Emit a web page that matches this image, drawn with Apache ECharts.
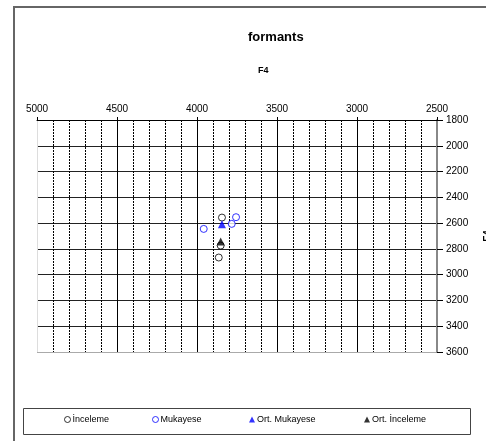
<!DOCTYPE html>
<html><head><meta charset="utf-8">
<script src="https://cdn.jsdelivr.net/npm/echarts@6/dist/echarts.min.js"></script>
<style>html,body{margin:0;padding:0;background:#fff}#c{width:486px;height:441px}</style>
</head><body><div id="c"></div>
<script>
// horizontal value (x), F4 vertical value (y)
const incelemeX = [3844, 3852, 3864];
const incelemeY = [2557, 2774, 2867];
const mukayeseX = [3756, 3783, 3958];
const mukayeseY = [2554, 2606, 2645];
const ortMukayese = [[3844, 2609]];
const ortInceleme = [[3852, 2743]];
const xTicks = [2500, 5000, 500];
const yTicks = [1800, 3600, 200];
const seriesNames = ['İnceleme', 'Mukayese', 'Ort. Mukayese', 'Ort. İnceleme'];

const zip = (a, b) => a.map((v, i) => [v, b[i]]);
const font = 'Liberation Sans, Arial, sans-serif';
const chart = echarts.init(document.getElementById('c'), null, {renderer: 'canvas'});
const legendLefts = [64, 152, 249, 364];
const plain = v => String(v);

chart.setOption({
  animation: false,
  backgroundColor: '#fff',
  title: [
    {text: 'formants', left: 243, top: 26, textStyle: {fontFamily: font, fontSize: 13, fontWeight: 'bold', color: '#000'}},
    {text: 'F4', left: 253, top: 61, textStyle: {fontFamily: font, fontSize: 9, fontWeight: 'bold', color: '#000'}}
  ],
  grid: {left: 37, right: 49, top: 120, height: 232, containLabel: false, outerBoundsMode: 'none'},
  xAxis: {
    type: 'value', position: 'top', inverse: true,
    min: xTicks[0], max: xTicks[1], interval: xTicks[2],
    axisLine: {show: true, lineStyle: {color: '#000', width: 1}},
    axisTick: {show: true, inside: false, length: 3, lineStyle: {color: '#000'}},
    minorTick: {show: false, splitNumber: 5},
    axisLabel: {fontFamily: font, fontSize: 10, color: '#000', margin: 6, formatter: plain},
    splitLine: {show: true, lineStyle: {color: ['#888', '#000', '#000', '#000', '#000', '#ddd'], width: 1}},
    minorSplitLine: {show: true, lineStyle: {color: '#000', type: [2, 1], width: 1}}
  },
  yAxis: {
    type: 'value', position: 'right', inverse: true,
    min: yTicks[0], max: yTicks[1], interval: yTicks[2],
    name: 'F4', nameLocation: 'middle', nameGap: 46, nameRotate: 90,
    nameTextStyle: {fontFamily: font, fontSize: 10, fontWeight: 'bold', color: '#000'},
    axisLine: {show: true, lineStyle: {color: '#888', width: 2}},
    axisTick: {show: true, inside: false, length: 6, lineStyle: {color: '#000'}},
    axisLabel: {fontFamily: font, fontSize: 10, color: '#000', margin: 9, formatter: plain},
    splitLine: {show: true, lineStyle: {color: ['#000', '#222', '#222', '#222', '#222', '#222', '#222', '#222', '#222', '#aaa'], width: 1}}
  },
  legend: seriesNames.map((n, i) => ({
    data: [n], left: legendLefts[i], top: 415, itemWidth: 6, itemHeight: 6, itemGap: 0, padding: 0,
    itemStyle: {borderWidth: 1},
    textStyle: {fontFamily: font, fontSize: 9, color: '#000', padding: [0, 0, 0, -3]}
  })),
  graphic: [
    {type: 'rect', shape: {x: 14, y: 7, width: 520, height: 500}, style: {fill: 'none', stroke: '#666', lineWidth: 2}, silent: true},
    {type: 'rect', shape: {x: 23.5, y: 408.5, width: 447, height: 26}, style: {fill: 'none', stroke: '#444', lineWidth: 1}, silent: true}
  ],
  series: [
    {name: seriesNames[0], type: 'scatter', symbol: 'circle', symbolSize: 7, itemStyle: {color: '#fff', borderColor: '#000', borderWidth: 1}, data: zip(incelemeX, incelemeY), z: 3},
    {name: seriesNames[1], type: 'scatter', symbol: 'circle', symbolSize: 7, itemStyle: {color: '#fff', borderColor: '#00f', borderWidth: 1}, data: zip(mukayeseX, mukayeseY), z: 3},
    {name: seriesNames[2], type: 'scatter', symbol: 'triangle', symbolSize: 8, itemStyle: {color: '#00f'}, data: ortMukayese, z: 4},
    {name: seriesNames[3], type: 'scatter', symbol: 'triangle', symbolSize: 8, itemStyle: {color: '#000'}, data: ortInceleme, z: 4}
  ]
});
</script></body></html>
